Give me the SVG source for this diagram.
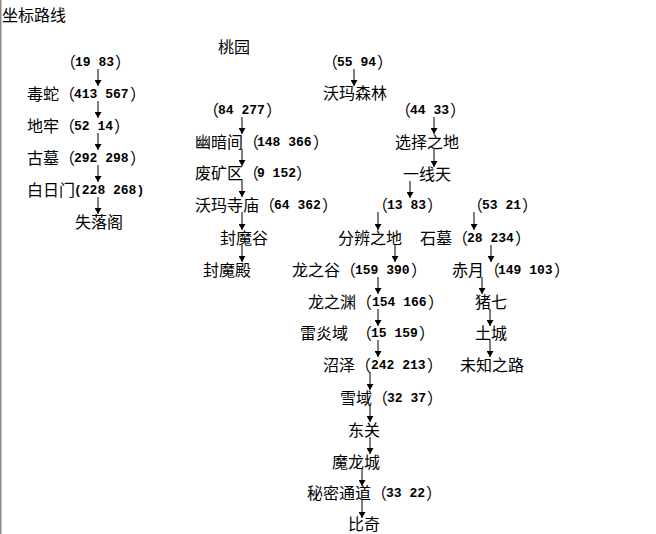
<svg xmlns="http://www.w3.org/2000/svg" width="656" height="534" viewBox="0 0 656 534">
<defs>
<style>
.c{font-family:"Noto Sans CJK SC","Noto Sans CJK JP",sans-serif;font-size:16px;fill:#000}
.n{font-family:"Liberation Mono","DejaVu Sans Mono",monospace;font-size:13px;font-weight:bold;fill:#000}
.a{stroke:#000;stroke-width:1;fill:none;marker-end:url(#ah)}
</style>
<marker id="ah" viewBox="0 0 6 7" refX="6" refY="3.5" markerWidth="6" markerHeight="7" markerUnits="userSpaceOnUse" orient="auto">
<path d="M0,0 L6,3.5 L0,7 Z" fill="#000"/>
</marker>
</defs>
<rect width="656" height="534" fill="#fff"/>
<rect x="0" y="0" width="1.5" height="534" fill="#8a8a8a"/>

<g id="title"><text class="c" x="2" y="21">坐标路线</text></g>

<!-- left column -->
<g id="n_19_83"><text class="c" x="60" y="68">（</text><text class="n" x="75" y="66">19 83</text><text class="c" x="115" y="68">）</text></g>
<g id="n_dushe"><text class="c" x="27" y="100">毒蛇（</text><text class="n" x="74" y="98">413 567</text><text class="c" x="130" y="100">）</text></g>
<g id="n_dilao"><text class="c" x="27" y="132">地牢（</text><text class="n" x="74" y="130">52 14</text><text class="c" x="114" y="132">）</text></g>
<g id="n_gumu"><text class="c" x="27" y="164">古墓（</text><text class="n" x="74" y="162">292 298</text><text class="c" x="130" y="164">）</text></g>
<g id="n_bairimen"><text class="c" x="27" y="196">白日门</text><text class="n" x="74" y="194">(228 268)</text></g>
<g id="n_shiluoge"><text class="c" x="75" y="228">失落阁</text></g>

<!-- middle column -->
<g id="n_taoyuan"><text class="c" x="218" y="53">桃园</text></g>
<g id="n_84_277"><text class="c" x="203" y="116">（</text><text class="n" x="218" y="114">84 277</text><text class="c" x="266" y="116">）</text></g>
<g id="n_youanjian"><text class="c" x="195" y="148">幽暗间（</text><text class="n" x="257" y="146">148 366</text><text class="c" x="313" y="148">）</text></g>
<g id="n_feikuangqu"><text class="c" x="195" y="179">废矿区（</text><text class="n" x="257" y="177">9 152</text><text class="c" x="296" y="179">）</text></g>
<g id="n_womasimiao"><text class="c" x="195" y="211">沃玛寺庙（</text><text class="n" x="274" y="209">64 362</text><text class="c" x="322" y="211">）</text></g>
<g id="n_fengmogu"><text class="c" x="220" y="244">封魔谷</text></g>
<g id="n_fengmodian"><text class="c" x="203" y="276">封魔殿</text></g>

<!-- right-middle column -->
<g id="n_55_94"><text class="c" x="322" y="68">（</text><text class="n" x="337" y="66">55 94</text><text class="c" x="377" y="68">）</text></g>
<g id="n_womasenlin"><text class="c" x="323" y="99">沃玛森林</text></g>
<g id="n_44_33"><text class="c" x="395" y="116">（</text><text class="n" x="410" y="114">44 33</text><text class="c" x="450" y="116">）</text></g>
<g id="n_xuanzezhidi"><text class="c" x="395" y="148">选择之地</text></g>
<g id="n_yixiantian"><text class="c" x="403" y="180">一线天</text></g>
<g id="n_13_83"><text class="c" x="372" y="211">（</text><text class="n" x="387" y="209">13 83</text><text class="c" x="427" y="211">）</text></g>
<g id="n_53_21"><text class="c" x="467" y="211">（</text><text class="n" x="482" y="209">53 21</text><text class="c" x="522" y="211">）</text></g>
<g id="n_fenbianzhidi"><text class="c" x="338" y="244">分辨之地</text></g>
<g id="n_shimu"><text class="c" x="420" y="244">石墓（</text><text class="n" x="467" y="242">28 234</text><text class="c" x="515" y="244">）</text></g>
<g id="n_longzhigu"><text class="c" x="292" y="276">龙之谷（</text><text class="n" x="355" y="274">159 390</text><text class="c" x="411" y="276">）</text></g>
<g id="n_chiyue"><text class="c" x="452" y="276">赤月（</text><text class="n" x="498" y="274">149 103</text><text class="c" x="554" y="276">）</text></g>
<g id="n_longzhiyuan"><text class="c" x="308" y="308">龙之渊（</text><text class="n" x="372" y="306">154 166</text><text class="c" x="428" y="308">）</text></g>
<g id="n_zhuqi"><text class="c" x="475" y="308">猪七</text></g>
<g id="n_leiyanyu"><text class="c" x="300" y="339">雷炎域</text><text class="c" x="356" y="339">（</text><text class="n" x="371" y="337">15 159</text><text class="c" x="419" y="339">）</text></g>
<g id="n_tucheng"><text class="c" x="475" y="339">土城</text></g>
<g id="n_zhaoze"><text class="c" x="323" y="371">沼泽（</text><text class="n" x="371" y="369">242 213</text><text class="c" x="427" y="371">）</text></g>
<g id="n_weizhizhilu"><text class="c" x="460" y="371">未知之路</text></g>
<g id="n_xueyu"><text class="c" x="340" y="404">雪域（</text><text class="n" x="387" y="402">32 37</text><text class="c" x="427" y="404">）</text></g>
<g id="n_dongguan"><text class="c" x="348" y="436">东关</text></g>
<g id="n_molongcheng"><text class="c" x="332" y="468">魔龙城</text></g>
<g id="n_mimitongdao"><text class="c" x="307" y="499">秘密通道（</text><text class="n" x="386" y="497">33 22</text><text class="c" x="426" y="499">）</text></g>
<g id="n_biqi"><text class="c" x="348" y="530">比奇</text></g>

<g id="connectors">
<path class="a" d="M98,69 V86"/>
<path class="a" d="M98,101 V118"/>
<path class="a" d="M98,133 V150"/>
<path class="a" d="M98,165 V182"/>
<path class="a" d="M98,197 V214"/>
<path class="a" d="M242,117 V134"/>
<path class="a" d="M242,149 V166"/>
<path class="a" d="M242,180 V197"/>
<path class="a" d="M242,212 V230"/>
<path class="a" d="M242,245 V262"/>
<path class="a" d="M354,69 V86"/>
<path class="a" d="M434,117 V134"/>
<path class="a" d="M434,149 V167"/>
<path class="a" d="M410,181 V198"/>
<path class="a" d="M378,212 V230"/>
<path class="a" d="M474,212 V230"/>
<path class="a" d="M395,245 V262"/>
<path class="a" d="M491,245 V262"/>
<path class="a" d="M378,277 V294"/>
<path class="a" d="M378,309 V326"/>
<path class="a" d="M378,340 V357"/>
<path class="a" d="M482,277 V294"/>
<path class="a" d="M490,309 V326"/>
<path class="a" d="M490,340 V357"/>
<path class="a" d="M370,372 V390"/>
<path class="a" d="M370,405 V422"/>
<path class="a" d="M370,437 V454"/>
<path class="a" d="M362,469 V486"/>
<path class="a" d="M362,500 V518"/>
</g>
</svg>
